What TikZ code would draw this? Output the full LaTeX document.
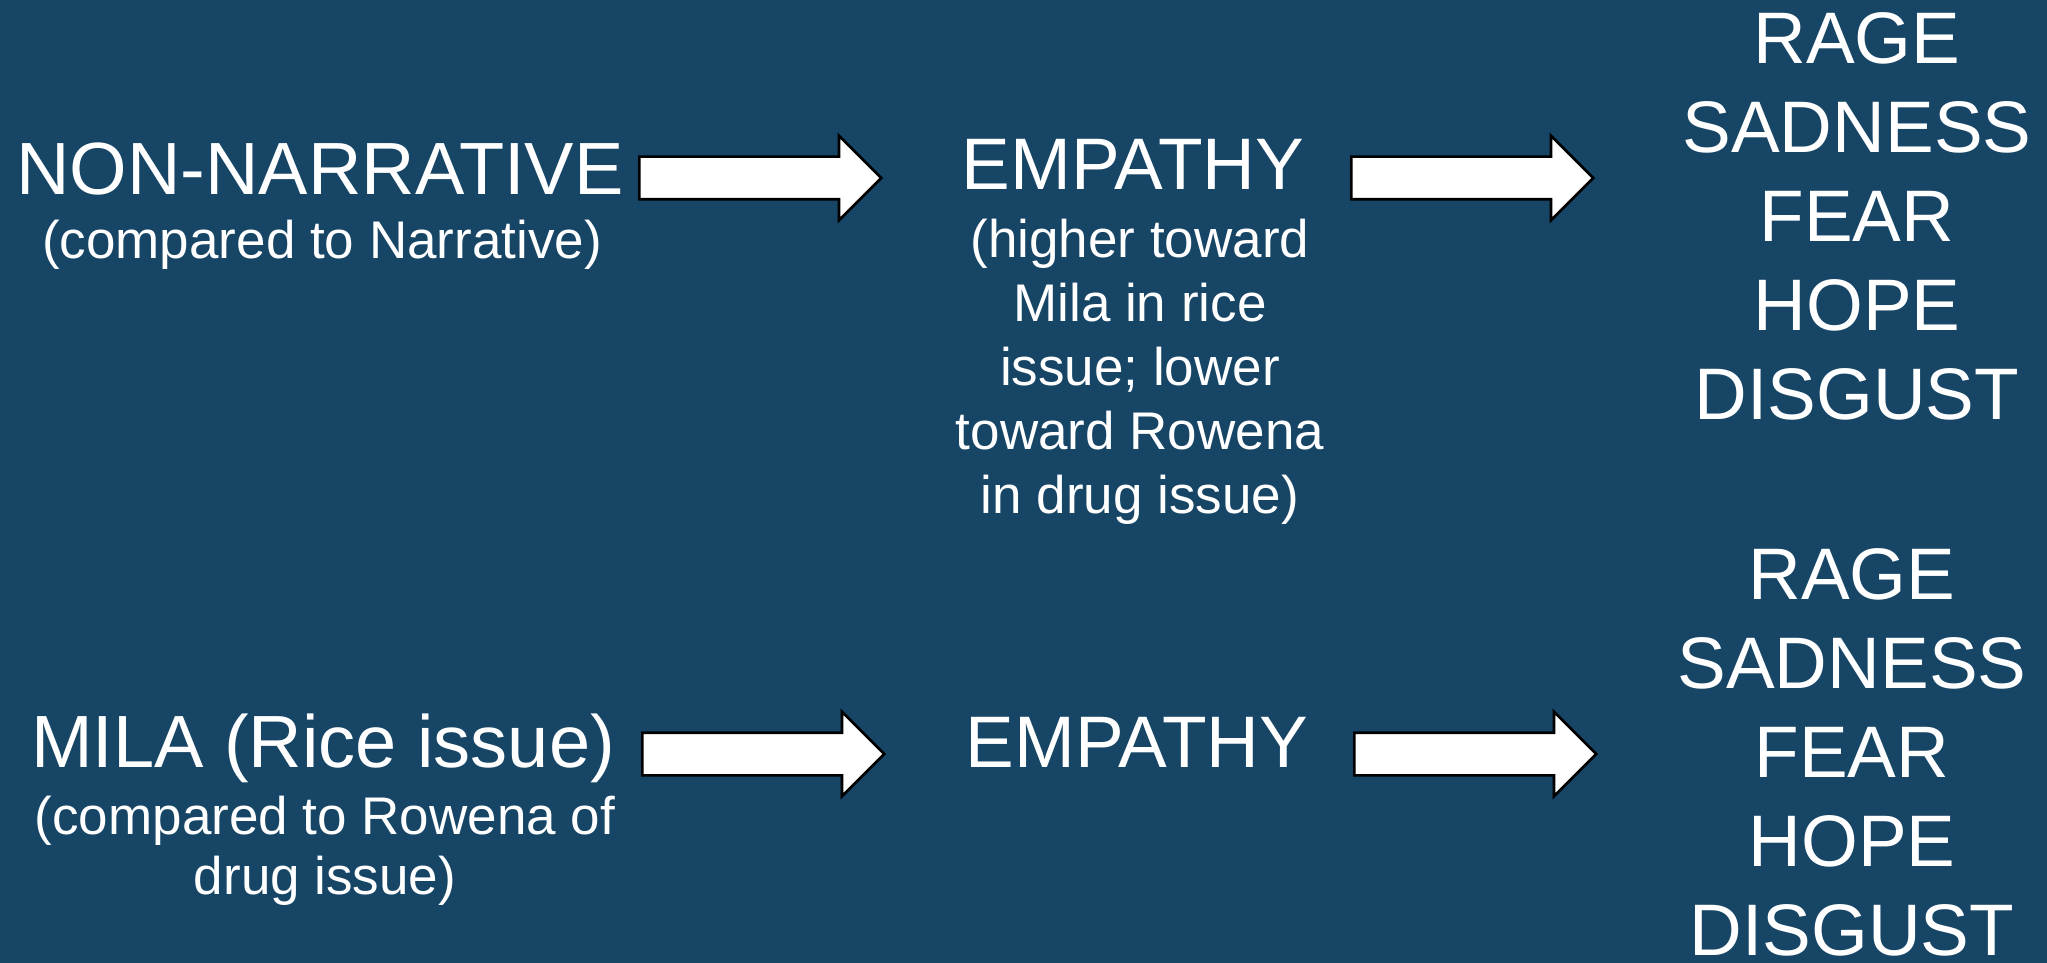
\documentclass[tikz,border=0pt]{standalone}
\usepackage{fontspec}
\setmainfont{Liberation Sans}
\usetikzlibrary{shapes.arrows}

\definecolor{slideblue}{RGB}{22,69,101}

\tikzset{
  lefttitle/.style={text=white,inner sep=0pt,anchor=base,font=\fontsize{37}{44}\selectfont},
  leftsub/.style={text=white,inner sep=0pt,anchor=north,align=center,font=\fontsize{26.5}{30}\selectfont},
  midtitle/.style={text=white,inner sep=0pt,anchor=base,font=\fontsize{36.5}{44}\selectfont},
  midsub/.style={text=white,inner sep=0pt,anchor=north,align=center,font=\fontsize{26.5}{32}\selectfont},
  emolist/.style={text=white,inner sep=0pt,anchor=north,align=center,font=\fontsize{36.5}{44.5}\selectfont},
  blockarrow/.style={single arrow,draw=black,fill=white,line width=1.3pt,anchor=tail,
    minimum height=121pt,inner xsep=0pt,inner ysep=10pt,
    single arrow head extend=10.5pt,single arrow tip angle=90},
}

\begin{document}
\begin{tikzpicture}[x=0.5pt,y=-0.5pt]
  \fill[slideblue] (0,0) rectangle (2047,963);
  \useasboundingbox (0,0) rectangle (2047,963);

  % narrative row
  \node[lefttitle](nonnar) at (320,194) {NON-NARRATIVE};
  \node[leftsub](nonnarsub) at (322,220) {(compared to Narrative)};
  \node[blockarrow](arrA) at (638,178) {};
  \node[midtitle](empA) at (1133,190) {EMPATHY};
  \node[midsub](empAsub) at (1140,219) {(higher toward\\ Mila in rice\\ issue; lower\\ toward Rowena\\ in drug issue)};
  \node[blockarrow](arrB) at (1350,178) {};
  \node[emolist](emoA) at (1857,12.5) {RAGE\\ SADNESS\\ FEAR\\ HOPE\\ DISGUST};

  % character row
  \node[lefttitle](mila) at (323,767) {MILA (Rice issue)};
  \node[leftsub](milasub) at (325,796) {(compared to Rowena of\\ drug issue)};
  \node[blockarrow](arrC) at (641,754) {};
  \node[midtitle](empB) at (1137,767) {EMPATHY};
  \node[blockarrow](arrD) at (1353,754) {};
  \node[emolist](emoB) at (1852,548) {RAGE\\ SADNESS\\ FEAR\\ HOPE\\ DISGUST};
\end{tikzpicture}
\end{document}
